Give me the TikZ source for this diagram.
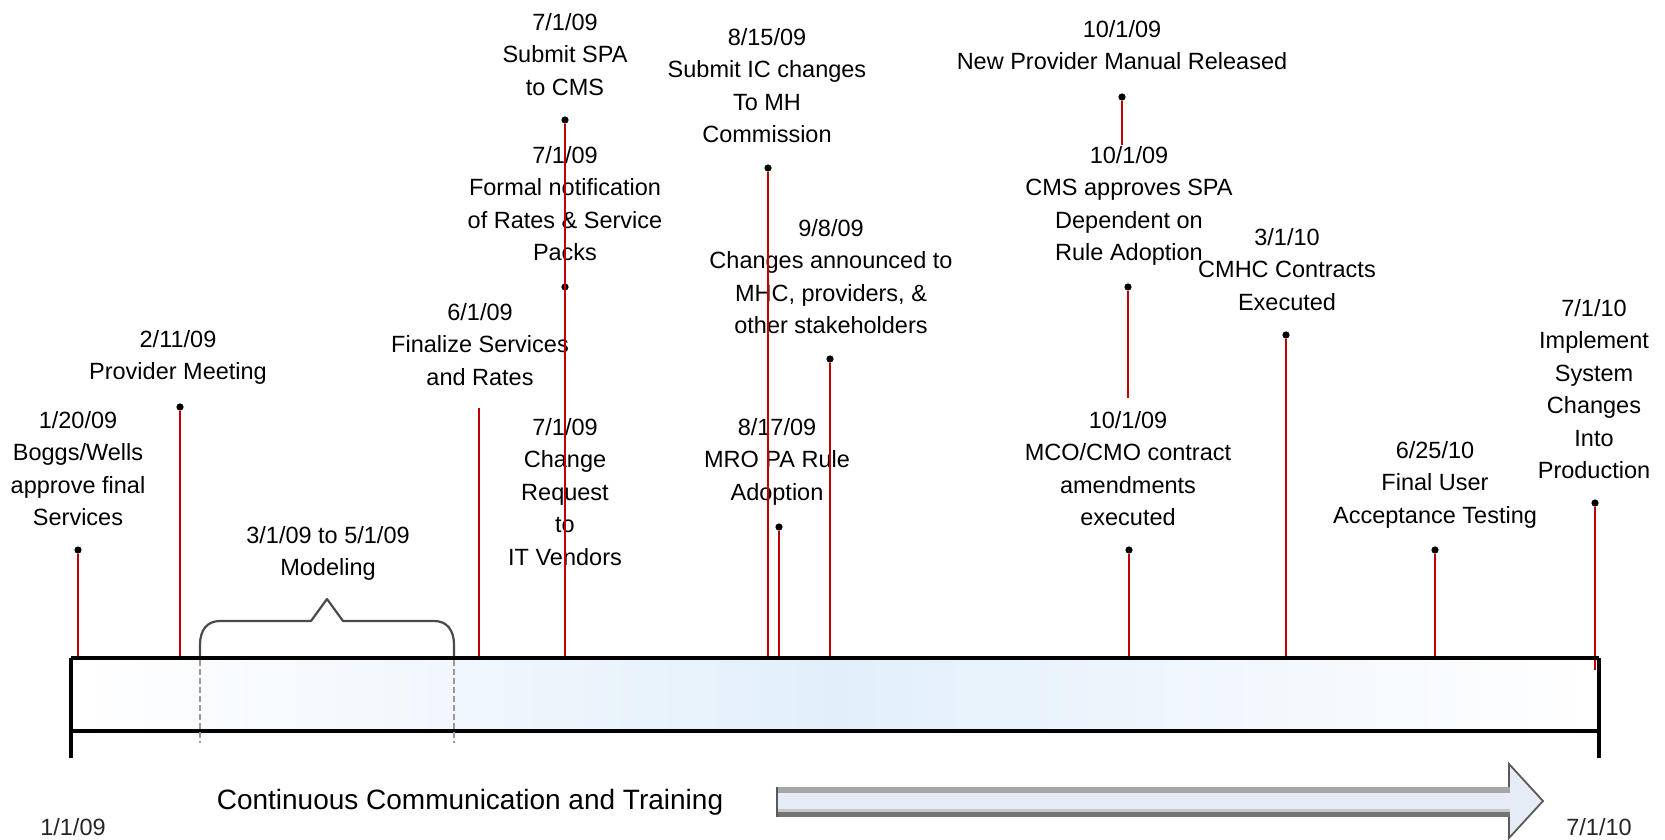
\documentclass[tikz,border=0pt]{standalone}
\usepackage{fontspec}
\setmainfont{Liberation Sans}
\definecolor{evred}{HTML}{C00000}
\definecolor{barblue}{HTML}{E2EFFA}
\definecolor{arrowfill}{HTML}{E6ECF6}
\definecolor{bracegray}{HTML}{4A4A4A}
\newcommand{\lblfont}{\fontsize{11.75}{16.25}\selectfont}
\newcommand{\bigfont}{\fontsize{14}{17}\selectfont}
\begin{document}
\begin{tikzpicture}[x=0.5pt,y=-0.5pt,
  lbl/.style={font=\lblfont, align=center, anchor=north, inner sep=0pt, text=black},
  evdot/.style={circle, fill=black, inner sep=0pt, minimum size=3.6pt},
  evline/.style={draw=evred, line width=1.4pt},
  barbox/.style={left color=white, right color=white, middle color=barblue, draw=none, inner sep=0pt},
  barline/.style={line width=1.75pt, black},
  dashguide/.style={draw=gray!80, line width=0.6pt, dash pattern=on 3pt off 1.5pt},
  bracestyle/.style={draw=bracegray, line width=1.1pt, line join=round}]
\useasboundingbox (0,0) rectangle (1665,840);

% timeline bar
\node[barbox, anchor=north west, minimum width=763.5pt, minimum height=36pt] (bar) at (71,658) {};

% labels
\node[lbl] (t1) at (78,411) {1/20/09\\Boggs/Wells\\approve final\\Services};
\node[lbl] (t2) at (178,330) {2/11/09\\Provider Meeting};
\node[lbl] (t3) at (480,303) {6/1/09\\Finalize Services\\and Rates};
\node[lbl] (t4) at (328,526) {3/1/09 to 5/1/09\\Modeling};
\node[lbl] (t5) at (565,13) {7/1/09\\Submit SPA\\to CMS};
\node[lbl] (t6) at (565,146) {7/1/09\\Formal notification\\of Rates \& Service\\Packs};
\node[lbl] (t7) at (565,418) {7/1/09\\Change\\Request\\to\\IT Vendors};
\node[lbl] (t8) at (767,28) {8/15/09\\Submit IC changes\\To MH\\Commission};
\node[lbl] (t9) at (831,219) {9/8/09\\Changes announced to\\MHC, providers, \&\\other stakeholders};
\node[lbl] (t10) at (777,418) {8/17/09\\MRO PA Rule\\Adoption};
\node[lbl] (t11) at (1122,20) {10/1/09\\New Provider Manual Released};
\node[lbl] (t12) at (1129,146) {10/1/09\\CMS approves SPA\\Dependent on\\Rule Adoption};
\node[lbl] (t13) at (1128,411) {10/1/09\\MCO/CMO contract\\amendments\\executed};
\node[lbl] (t14) at (1287,228) {3/1/10\\CMHC Contracts\\Executed};
\node[lbl] (t15) at (1435,441) {6/25/10\\Final User\\Acceptance Testing};
\node[lbl] (t16) at (1594,299) {7/1/10\\Implement\\System\\Changes\\Into\\Production};

\node[font=\lblfont, inner sep=0pt, text=black!85] (start) at (73,827) {1/1/09};
\node[font=\lblfont, inner sep=0pt, text=black!85] (end) at (1599,827) {7/1/10};

% dots
\node[evdot] (d1) at (78,550) {};
\node[evdot] (d2) at (180,407) {};
\coordinate (c3) at (479,408);
\node[evdot] (d5) at (565,120) {};
\node[evdot] (d6) at (565,287) {};
\node[evdot] (d8) at (768,168) {};
\node[evdot] (d9) at (830,359) {};
\node[evdot] (d10) at (779,527) {};
\node[evdot] (d11) at (1122,97) {};
\coordinate (e11) at (1122,145);
\node[evdot] (d12) at (1128,287) {};
\coordinate (e12) at (1128,398);
\node[evdot] (d13) at (1129,550) {};
\node[evdot] (d14) at (1286,335) {};
\node[evdot] (d15) at (1435,550) {};
\node[evdot] (d16) at (1595,503) {};
\coordinate (e16) at (1595,670);

% event lines
\draw[evline] (d1) -- (d1 |- bar.north);
\draw[evline] (d2) -- (d2 |- bar.north);
\draw[evline] (c3) -- (c3 |- bar.north);
\draw[evline] (d5) -- (d5 |- bar.north);
\draw[evline] (d8) -- (d8 |- bar.north);
\draw[evline] (d9) -- (d9 |- bar.north);
\draw[evline] (d10) -- (d10 |- bar.north);
\draw[evline] (d11) -- (e11);
\draw[evline] (d12) -- (e12);
\draw[evline] (d13) -- (d13 |- bar.north);
\draw[evline] (d14) -- (d14 |- bar.north);
\draw[evline] (d15) -- (d15 |- bar.north);
\draw[evline] (d16) -- (e16);

% bar borders
\draw[barline] (bar.north west) -- (bar.north east);
\draw[barline] (bar.south west) -- (bar.south east);
\draw[barline] (bar.north west) -- ++(0,100);
\draw[barline] (bar.north east) -- ++(0,100);

% modeling brace and guides
\draw[bracestyle] (200,656) -- (200,645) .. controls (200,630) and (207,621) .. (220,621)
  -- (311,621) -- (327,599) -- (343,621) -- (434,621)
  .. controls (447,621) and (454,630) .. (454,645) -- (454,656);
\draw[dashguide] (200,660) -- (200,743);
\draw[dashguide] (454,660) -- (454,743);

% communication arrow
\node[font=\bigfont, inner sep=0pt, text=black] (comm) at (470,802) {Continuous Communication and Training};
\fill[arrowfill] (777,787) -- (1509,787) -- (1509,764) -- (1543,801) -- (1509,838) -- (1509,817) -- (777,817) -- cycle;
\fill[gray!70] (777,787) rectangle (1510,793);
\fill[gray!45] (777,809) rectangle (1510,812);
\fill[black!55] (777,812) rectangle (1510,817);
\draw[black!65, line width=0.9pt, line join=miter] (1509,787) -- (1509,764) -- (1543,801) -- (1509,838) -- (1509,817);
\draw[black!65, line width=0.9pt] (777,787) -- (777,817);
\end{tikzpicture}
\end{document}
